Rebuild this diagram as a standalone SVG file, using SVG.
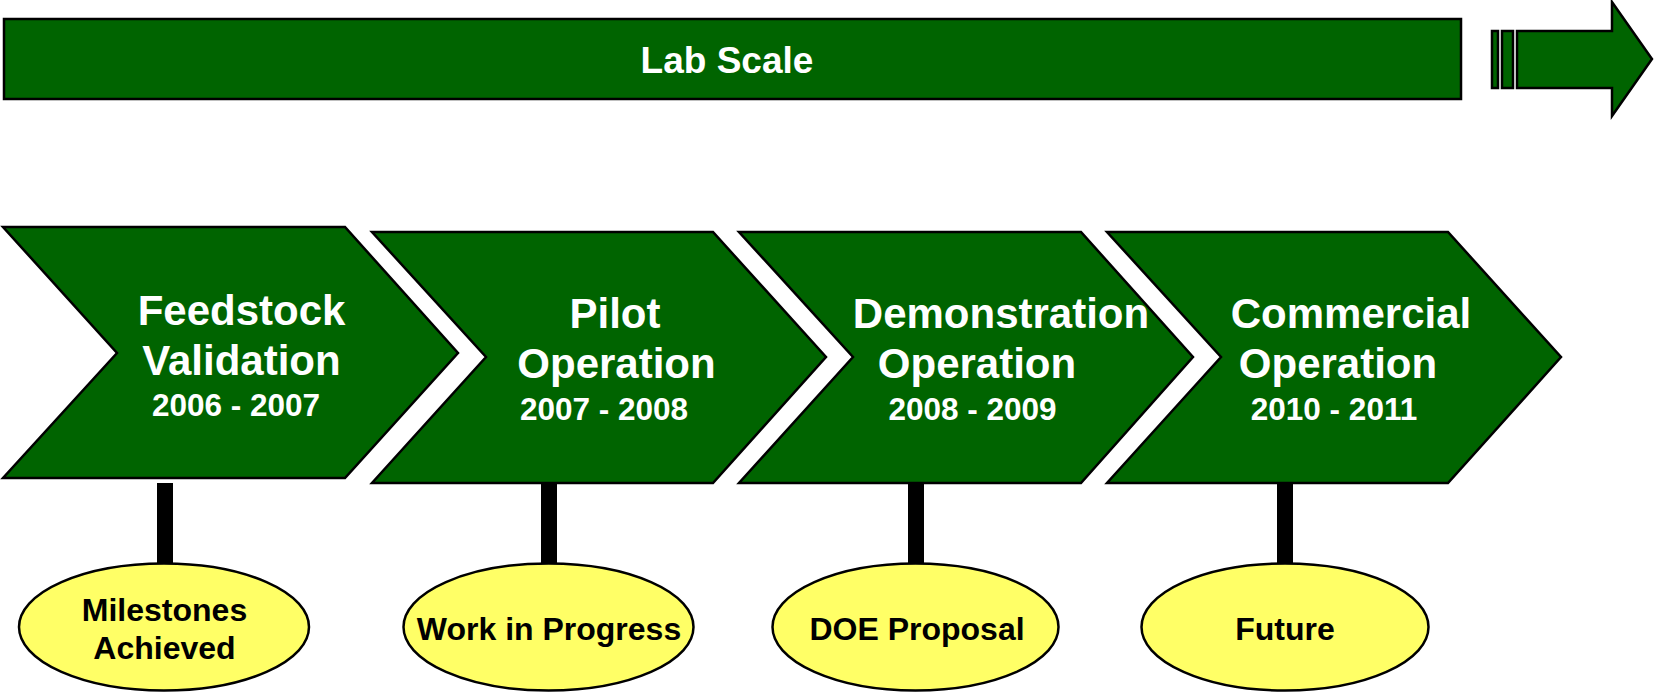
<svg xmlns="http://www.w3.org/2000/svg" width="1654" height="692" viewBox="0 0 1654 692">
<style>
.g{fill:#006400;stroke:#000;stroke-width:2.5;stroke-linejoin:miter}
.el{fill:#ffff66;stroke:#000;stroke-width:2.5}
.stem{fill:#000}
.t{font-family:"Liberation Sans",Arial,sans-serif;font-weight:bold;fill:#fff;text-anchor:middle}
.big{font-size:42px}
.yr{font-size:31.5px}
.lab{font-size:37px}
.et{font-family:"Liberation Sans",Arial,sans-serif;font-weight:bold;fill:#000;text-anchor:middle;font-size:32px}
</style>
<rect width="1654" height="692" fill="#fff"/>
<g id="lab-scale">
<rect class="g" x="4" y="19" width="1457" height="80"/>
<text class="t lab" x="727" y="73">Lab Scale</text>
</g>
<g id="lab-arrow">
<rect class="g" x="1492" y="31" width="6" height="57"/>
<rect class="g" x="1502" y="31" width="11" height="57"/>
<path class="g" d="M1517,31 L1612,31 L1612,2 L1652,59 L1612,116 L1612,88 L1517,88 Z"/>
</g>
<g id="connectors">
<rect class="stem" x="157" y="483" width="16" height="84"/>
<rect class="stem" x="541" y="483" width="16" height="84"/>
<rect class="stem" x="908" y="483" width="16" height="84"/>
<rect class="stem" x="1277" y="483" width="16" height="84"/>
</g>
<g id="feedstock">
<path class="g" d="M3,227 L345,227 L458,353 L345,478 L3,478 L117,353 Z"/>
<text class="t big" x="241.5" y="325">Feedstock</text>
<text class="t big" x="241.5" y="375">Validation</text>
<text class="t yr" x="236" y="416">2006 - 2007</text>
</g>
<g id="pilot">
<path class="g" d="M372,232 L713,232 L826,357 L713,483 L372,483 L486,357 Z"/>
<text class="t big" x="615" y="328">Pilot</text>
<text class="t big" x="616.5" y="378">Operation</text>
<text class="t yr" x="604" y="420">2007 - 2008</text>
</g>
<g id="demonstration">
<path class="g" d="M739,232 L1081,232 L1193,357 L1081,483 L739,483 L853,357 Z"/>
<text class="t big" x="1001" y="328">Demonstration</text>
<text class="t big" x="977" y="378">Operation</text>
<text class="t yr" x="972.5" y="420">2008 - 2009</text>
</g>
<g id="commercial">
<path class="g" d="M1107,232 L1448,232 L1561,357 L1448,483 L1107,483 L1221,357 Z"/>
<text class="t big" x="1351" y="328">Commercial</text>
<text class="t big" x="1338" y="378">Operation</text>
<text class="t yr" x="1334" y="420">2010 - 2011</text>
</g>
<g id="milestones">
<ellipse class="el" cx="164" cy="627" rx="145" ry="63.5"/>
<text class="et" x="164.5" y="621">Milestones</text>
<text class="et" x="164.5" y="659">Achieved</text>
</g>
<g id="work-in-progress">
<ellipse class="el" cx="548.5" cy="627" rx="145" ry="63.5"/>
<text class="et" x="549" y="640">Work in Progress</text>
</g>
<g id="doe-proposal">
<ellipse class="el" cx="915.5" cy="627" rx="143" ry="63.5"/>
<text class="et" x="917" y="640">DOE Proposal</text>
</g>
<g id="future">
<ellipse class="el" cx="1285" cy="627" rx="143.5" ry="63.5"/>
<text class="et" x="1285" y="640">Future</text>
</g>
</svg>
